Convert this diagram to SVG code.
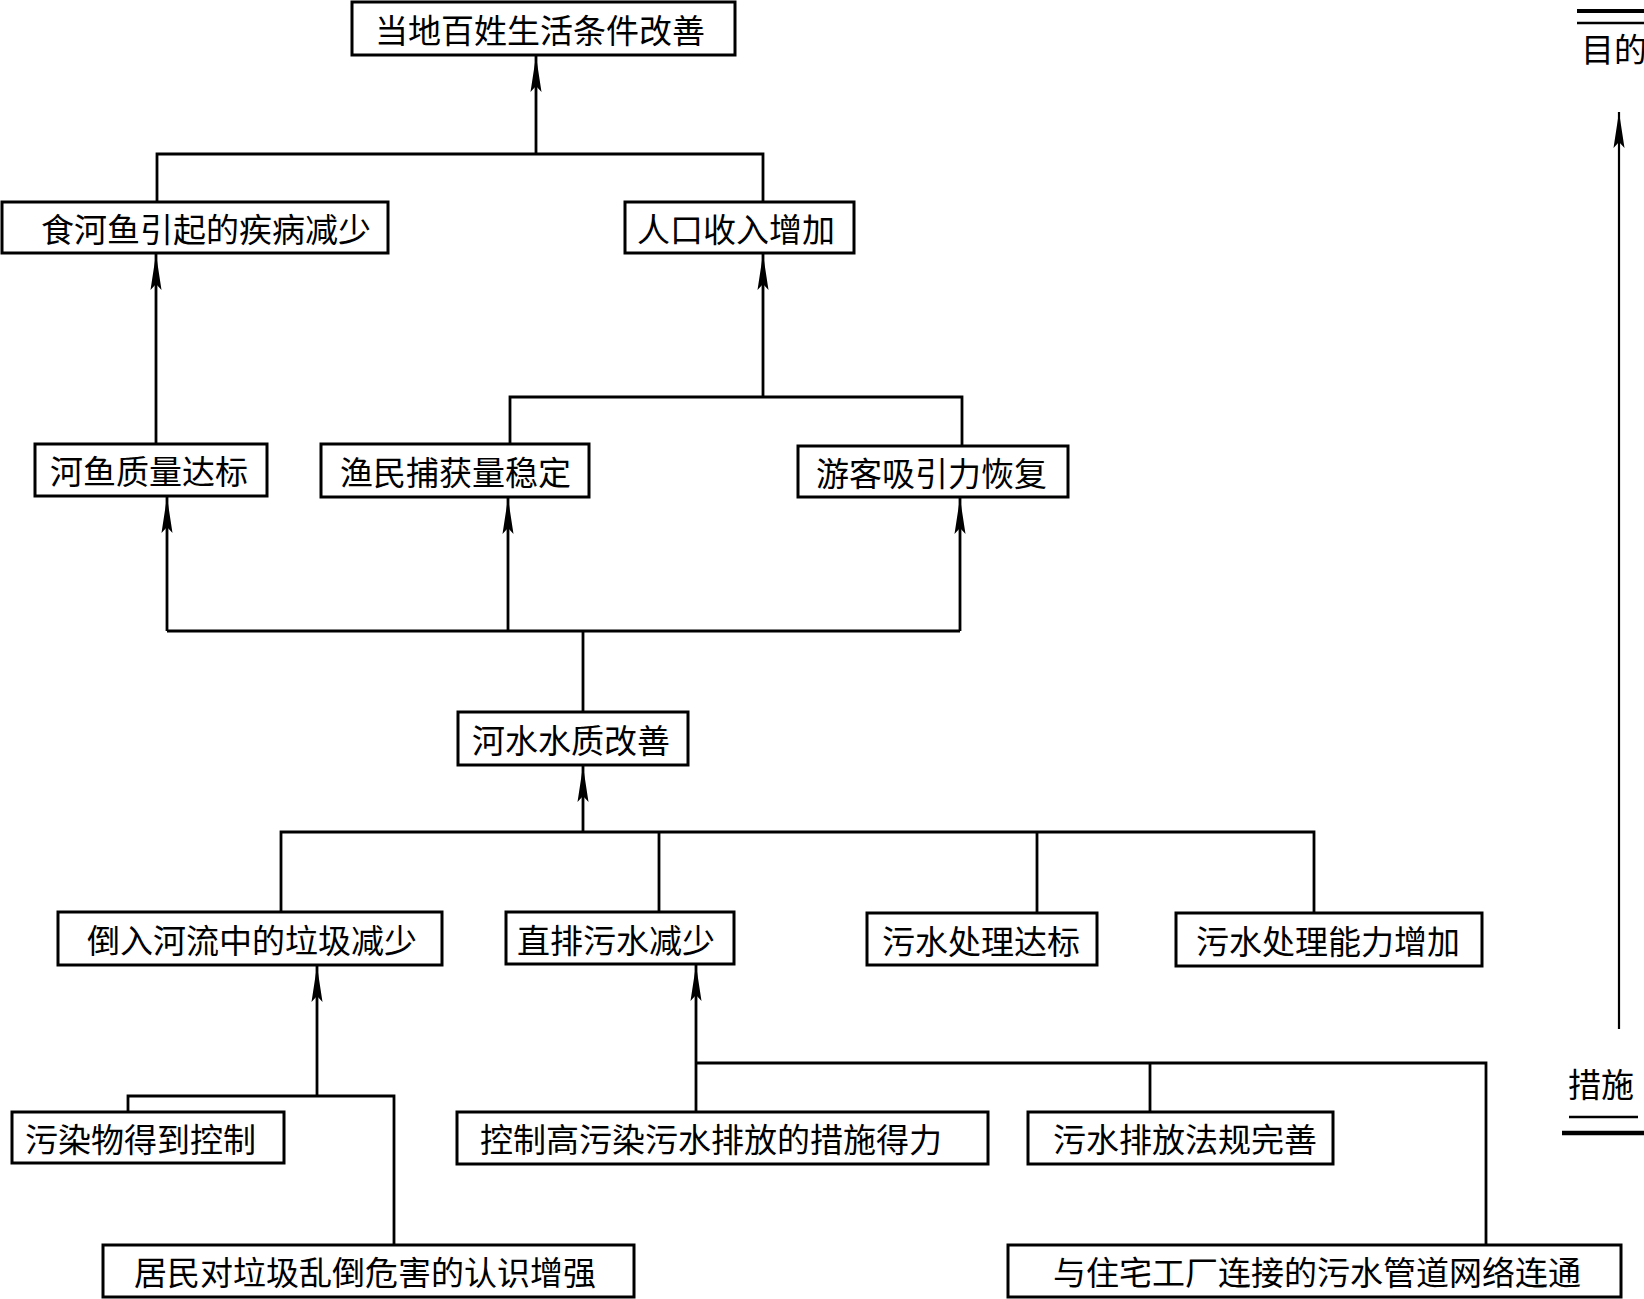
<svg xmlns="http://www.w3.org/2000/svg" width="1644" height="1299" viewBox="0 0 1644 1299">
<style>
.box{fill:#fff;stroke:#000;stroke-width:3}
.lbl{font-family:"Noto Sans CJK SC","Noto Sans CJK JP",sans-serif;font-size:33px;fill:#000;dominant-baseline:central}
.ln{fill:none;stroke:#000;stroke-width:2.8}
.arr{fill:none;stroke:#000;stroke-width:2.8;marker-end:url(#ah)}
</style>
<defs>
<marker id="ah" markerUnits="userSpaceOnUse" orient="auto" refX="0" refY="0" markerWidth="40" markerHeight="14" viewBox="-37 -7 40 14" overflow="visible">
<path d="M0,0 L-36,-5.5 L-30,0 L-36,5.5 Z" fill="#000"/>
</marker>
</defs>
<rect width="1644" height="1299" fill="#fff"/>
<g id="connectors">
<path class="arr" d="M536,154 V56"/>
<path class="ln" d="M157,202 V154 H763 V202"/>
<path class="arr" d="M156,444 V254"/>
<path class="ln" d="M510,444 V397 H962 V446"/>
<path class="arr" d="M763,397 V254"/>
<path class="arr" d="M167,631 V497"/>
<path class="arr" d="M508,631 V498"/>
<path class="arr" d="M960,631 V498"/>
<path class="ln" d="M167,631 H960"/>
<path class="ln" d="M583,631 V712"/>
<path class="arr" d="M583,832 V766"/>
<path class="ln" d="M281,912 V832 H1314 V913"/>
<path class="ln" d="M659,832 V912"/>
<path class="ln" d="M1037,832 V913"/>
<path class="arr" d="M317,1096 V966"/>
<path class="ln" d="M128,1112 V1096 H394 V1245"/>
<path class="arr" d="M696,1112 V965"/>
<path class="ln" d="M696,1063 H1486 V1245"/>
<path class="ln" d="M1150,1063 V1112"/>
<path class="ln" d="M1619,1029 V112" style="stroke-width:2.2;marker-end:url(#ah)"/>
</g>
<g id="n-top"><rect class="box" x="352" y="2" width="383" height="53"/><text class="lbl" x="375" y="29">当地百姓生活条件改善</text></g>
<g id="n-disease"><rect class="box" x="2" y="202" width="386" height="51"/><text class="lbl" x="41" y="228">食河鱼引起的疾病减少</text></g>
<g id="n-income"><rect class="box" x="625" y="202" width="229" height="51"/><text class="lbl" x="637" y="228">人口收入增加</text></g>
<g id="n-fishq"><rect class="box" x="35" y="444" width="232" height="52"/><text class="lbl" x="50" y="470">河鱼质量达标</text></g>
<g id="n-catch"><rect class="box" x="321" y="444" width="268" height="53"/><text class="lbl" x="340" y="471">渔民捕获量稳定</text></g>
<g id="n-tourist"><rect class="box" x="798" y="446" width="270" height="51"/><text class="lbl" x="816" y="472">游客吸引力恢复</text></g>
<g id="n-water"><rect class="box" x="458" y="712" width="230" height="53"/><text class="lbl" x="472" y="739">河水水质改善</text></g>
<g id="n-garbage"><rect class="box" x="58" y="912" width="384" height="53"/><text class="lbl" x="87" y="939">倒入河流中的垃圾减少</text></g>
<g id="n-direct"><rect class="box" x="506" y="912" width="228" height="52"/><text class="lbl" x="517" y="939">直排污水减少</text></g>
<g id="n-treatstd"><rect class="box" x="867" y="913" width="230" height="52"/><text class="lbl" x="882" y="940">污水处理达标</text></g>
<g id="n-treatcap"><rect class="box" x="1176" y="913" width="306" height="53"/><text class="lbl" x="1196" y="940">污水处理能力增加</text></g>
<g id="n-pollut"><rect class="box" x="12" y="1112" width="272" height="51"/><text class="lbl" x="25" y="1138">污染物得到控制</text></g>
<g id="n-aware"><rect class="box" x="103" y="1245" width="531" height="52"/><text class="lbl" x="134" y="1271">居民对垃圾乱倒危害的认识增强</text></g>
<g id="n-control"><rect class="box" x="457" y="1112" width="531" height="52"/><text class="lbl" x="480" y="1138">控制高污染污水排放的措施得力</text></g>
<g id="n-law"><rect class="box" x="1028" y="1112" width="305" height="52"/><text class="lbl" x="1053" y="1138">污水排放法规完善</text></g>
<g id="n-pipe"><rect class="box" x="1008" y="1245" width="613" height="52"/><text class="lbl" x="1053" y="1271">与住宅工厂连接的污水管道网络连通</text></g>
<g id="legend">
<line x1="1577" y1="11" x2="1644" y2="11" stroke="#000" stroke-width="4"/>
<line x1="1577" y1="23" x2="1644" y2="23" stroke="#000" stroke-width="2.5"/>
<text class="lbl" x="1581" y="48">目的</text>
<text class="lbl" x="1568" y="1083">措施</text>
<line x1="1569" y1="1117" x2="1638" y2="1117" stroke="#000" stroke-width="2.5"/>
<line x1="1562" y1="1133" x2="1644" y2="1133" stroke="#000" stroke-width="4.5"/>
</g>
</svg>
